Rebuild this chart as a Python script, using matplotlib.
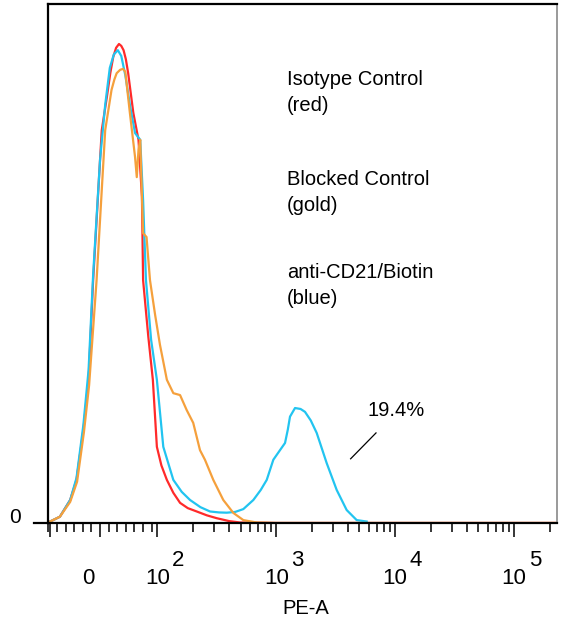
import numpy as np
import matplotlib
matplotlib.use('Agg')
import matplotlib.pyplot as plt
from matplotlib.transforms import offset_copy

plt.rcParams['font.family'] = ['Liberation Sans', 'DejaVu Sans']

""" Data (PE-A value, % of max) read off the histogram """
red_x = [-87, -70, -52, -41, -29, -20, -12, 3, 12, 18, 23, 28, 33, 37, 41, 45, 49, 58, 67, 73, 75,
         84, 92, 99, 108, 120, 136, 155, 180, 214, 260, 315, 400, 495, 1000, 262144]
red_y = [0.3, 1.3, 4.8, 9.0, 19.4, 29.9, 50.7, 82.0, 89.0, 94.0, 97.3, 99.2, 100.0, 99.6, 98.7,
         96.8, 93.9, 85.6, 80.0, 68.1, 50.7, 39.0, 29.9, 15.9, 12.0, 9.0, 6.3, 4.2, 3.1, 2.4, 1.6,
         1.0, 0.4, 0.1, 0.0, 0.0]

gold_x = [-87, -70, -52, -40, -28, -19, -6, 9, 20, 25, 29, 35, 40, 44, 52, 61, 64, 67, 70, 73, 75,
          81, 87, 96, 105, 120, 136, 155, 176, 200, 228, 251, 295, 358, 435, 528, 684, 1000, 262144]
gold_y = [0.3, 1.3, 4.4, 8.6, 19.0, 28.8, 50.7, 82.0, 90.4, 92.6, 93.9, 94.6, 94.8, 94.2, 85.6,
          76.4, 72.2, 77.9, 80.0, 68.1, 60.5, 59.7, 50.7, 43.4, 37.2, 29.9, 27.1, 26.7, 23.6, 20.9,
          15.2, 13.2, 9.0, 4.8, 2.1, 0.6, 0.1, 0.0, 0.0]

blue_x = [-87, -70, -52, -41, -29, -20, -12, 0, 9, 17, 24, 31, 37, 44, 52, 61, 70, 75, 80, 89, 99,
          112, 136, 160, 188, 230, 277, 330, 383, 450, 528, 641, 740, 831, 944, 1074, 1184, 1250,
          1304, 1437, 1600, 1743, 1950, 2187, 2654, 3221, 3909, 4745, 5760]
blue_y = [0.3, 1.3, 4.8, 9.4, 20.5, 31.9, 51.8, 75.8, 87.3, 95.0, 97.8, 98.7, 97.5, 93.5, 87.3, 81.4,
          80.0, 67.4, 50.7, 38.2, 29.9, 15.9, 9.0, 6.5, 4.8, 3.3, 2.4, 2.2, 2.15, 2.3, 2.9, 4.8, 6.9,
          9.0, 13.2, 15.2, 16.7, 19.5, 22.2, 24.0, 23.8, 23.2, 21.4, 18.8, 12.5, 6.9, 2.7, 0.6, 0.3]

gate_x = [4220, 6900]
gate_y = [13.4, 18.8]

decades = [100, 1000, 10000, 100000]
exponents = ['2', '3', '4', '5']
legend_lines = ['Isotype Control\n(red)', 'Blocked Control\n(gold)', 'anti-CD21/Biotin\n(blue)']

""" Plot """
fig = plt.figure(figsize=(5.61, 6.22), dpi=100)
ax = fig.add_axes([0.0856, 0.1592, 0.9073, 0.8344])
ax.set_xscale('symlog', linthresh=100, linscale=0.4347)

ax.plot(red_x, red_y, color='#ff2a2a', lw=1.6)
ax.plot(blue_x, blue_y, color='#22c4f0', lw=1.6)
ax.plot(gold_x, gold_y, color='#f5a03c', lw=1.6)
ax.plot(gate_x, gate_y, color='black', lw=0.9)

ax.set_xlim(-90.6, 230000)
ax.set_ylim(0, 108.35)

minor = [v for v in range(-90, 91, 15) if v != 0]
minor += [m * d for d in decades for m in range(2, 10) if m * d < 230000]
ax.set_xticks([-87, 0] + decades)
ax.set_xticklabels([])
ax.set_xticks(minor, minor=True)
ax.set_yticks([])
ax.tick_params(axis='x', which='major', length=10, width=1.1, direction='out')
ax.tick_params(axis='x', which='minor', length=6.5, width=1.1, direction='out')

for side in ['left', 'top', 'bottom']:
    ax.spines[side].set_linewidth(1.6)
    ax.spines[side].set_color('black')
ax.spines['right'].set_linewidth(1.4)
ax.spines['right'].set_color('#9a9a9a')
ax.plot([-0.028, 0], [0, 0], transform=ax.transAxes, clip_on=False, color='black', lw=1.6)

# tick labels drawn as text so the exponent sits at full size
xt = ax.get_xaxis_transform()
for d, e in zip(decades, exponents):
    ax.text(d, -0.107, '10', transform=xt, ha='center', va='center', fontsize=16)
    ax.text(d, -0.072, e, transform=offset_copy(xt, fig=fig, x=15, y=0, units='points'),
            ha='center', va='center', fontsize=16)
ax.text(0, -0.107, '0', transform=offset_copy(xt, fig=fig, x=-8.5, y=0, units='points'),
        ha='center', va='center', fontsize=16)
ax.text(-0.065, 0, '0', transform=ax.get_yaxis_transform(), ha='center', va='baseline', fontsize=15)
ax.text(0.507, -0.164, 'PE-A', transform=ax.transAxes, ha='center', va='center', fontsize=14.5)

for yy, txt in zip([0.829, 0.637, 0.458], legend_lines):
    ax.text(0.4695, yy, txt, transform=ax.transAxes, ha='left', va='center', fontsize=14.5,
            linespacing=1.5)
ax.text(0.6837, 0.2158, '19.4%', transform=ax.transAxes, ha='center', va='center', fontsize=14.5)

plt.savefig('out.png', dpi=100)
